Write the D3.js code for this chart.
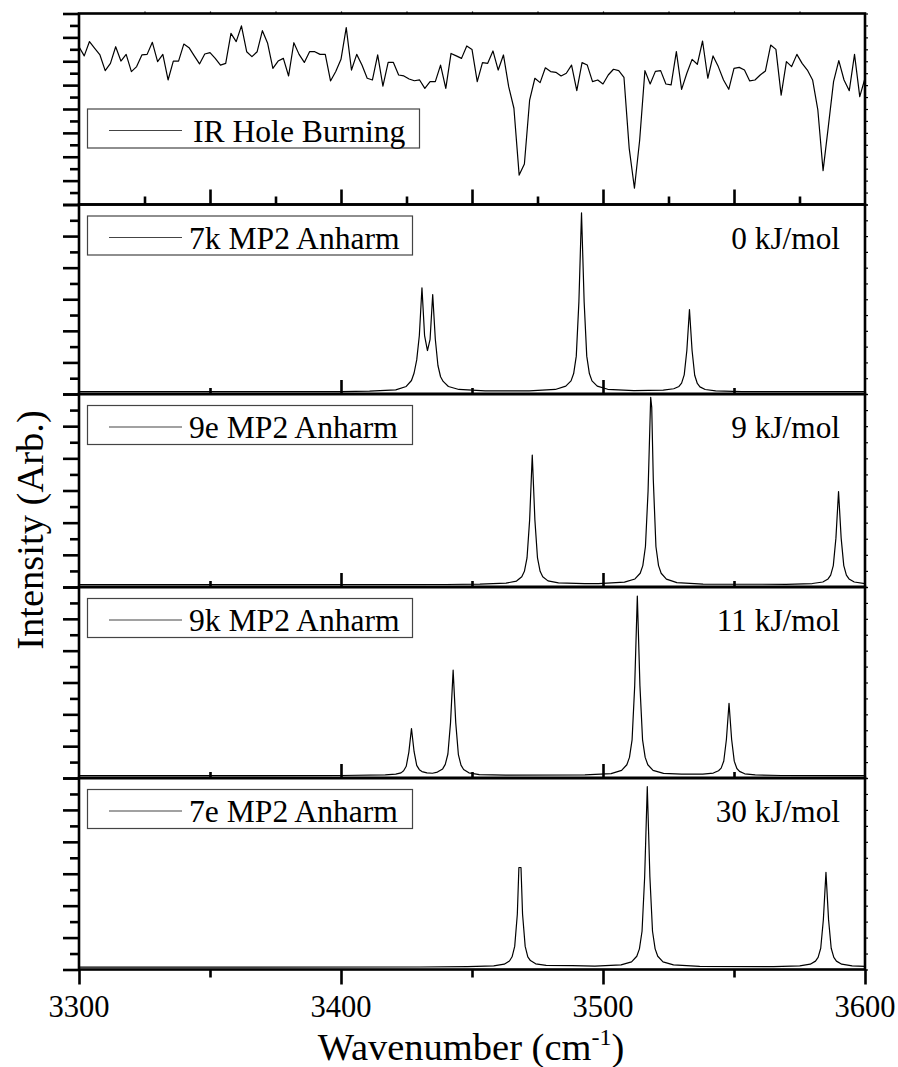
<!DOCTYPE html>
<html>
<head>
<meta charset="utf-8">
<script src="https://cdn.jsdelivr.net/npm/d3@7"></script>
<style>body{margin:0;background:#fff}</style>
</head>
<body>
<svg id="chart" width="898" height="1067"></svg>
<script>
// ---- data ----
const wavenumberTicks = [3300, 3400, 3500, 3600];
const panelLabels = ["IR Hole Burning", "7k MP2 Anharm", "9e MP2 Anharm", "9k MP2 Anharm", "7e MP2 Anharm"];
const energyLabels = [null, "0 kJ/mol", "9 kJ/mol", "11 kJ/mol", "30 kJ/mol"];

// IR hole-burning trace, sampled every 2 cm-1 from 3300 cm-1
const holeBurningStart = 3300;
const holeBurningStep = 2;
const holeBurning = [
  82.6, 77.8, 85.3, 81.8, 78.3, 70.1, 73.9, 82.6, 75.1, 78.6,
  69.6, 72.2, 78.3, 78.6, 84.9, 74.8, 78.6, 65.2, 75.1, 75.1,
  84.0, 82.1, 77.8, 73.6, 78.8, 79.5, 76.5, 73.0, 73.9, 89.6,
  85.3, 93.5, 80.0, 77.4, 80.0, 91.0, 84.4, 71.3, 75.1, 76.5,
  67.3, 84.7, 78.6, 74.4, 80.0, 80.0, 78.6, 78.6, 64.7, 69.6,
  76.0, 92.6, 70.4, 78.6, 73.0, 66.1, 65.2, 78.3, 62.0, 74.4,
  74.4, 67.8, 67.3, 65.7, 64.8, 65.2, 60.8, 64.3, 64.3, 73.0,
  60.8, 79.1, 77.8, 76.5, 83.0, 81.2, 64.3,
  74.3, 73.9, 80.4, 70.4, 78.3, 61.7, 50.4, 15.4, 21.2, 54.7,
  66.1, 63.8, 71.6, 69.6, 69.2, 67.3, 68.7, 73.0, 59.6, 74.3,
  73.0, 64.3, 65.2, 63.1, 67.8, 70.8, 70.1, 66.6, 29.4, 8.5,
  33.8, 70.1, 63.1, 69.7, 70.1, 63.1, 62.6, 80.0, 60.3, 68.7,
  76.0, 73.4, 85.6, 66.1, 77.8, 72.2, 65.2, 60.3, 71.3, 71.8,
  70.4, 64.7, 65.2, 67.8, 69.9, 83.5, 81.2, 57.3, 74.8, 72.2,
  78.6, 73.9, 70.4, 65.2, 49.5, 17.7, 40.8, 64.3, 75.3, 65.2,
  59.6, 78.6, 56.5, 66.1
];

// computed anharmonic spectra: [wavenumber (cm-1), intensity (arb.)]
const spectrum7k = [
  [3300, 0], [3400, 0.001], [3410.9, 0.003], [3420.9, 0.01], [3424.9, 0.028],
  [3426.9, 0.06], [3427.9, 0.1], [3428.9, 0.17], [3429.9, 0.3], [3430.9, 0.555],
  [3431.9, 0.3], [3433.0, 0.22], [3434.0, 0.28], [3435.0, 0.519], [3436.0, 0.28],
  [3437.0, 0.14], [3438.0, 0.08], [3439.0, 0.055], [3441.0, 0.028], [3445.0, 0.012],
  [3455.0, 0.004], [3471.8, 0.004], [3481.8, 0.012], [3485.8, 0.03], [3487.8, 0.058],
  [3488.8, 0.097], [3489.8, 0.19], [3490.8, 0.48], [3491.8, 0.956], [3492.8, 0.48],
  [3493.8, 0.19], [3494.8, 0.097], [3495.8, 0.058], [3497.8, 0.03], [3501.8, 0.013],
  [3511.8, 0.006], [3523.0, 0.008], [3527.0, 0.016], [3529.0, 0.028], [3530.0, 0.046],
  [3531.0, 0.09], [3532.0, 0.22], [3533.0, 0.439], [3534.0, 0.22], [3535.0, 0.088],
  [3536.0, 0.044], [3537.0, 0.026], [3539.0, 0.012], [3543.0, 0.004], [3553.0, 0.001],
  [3600, 0]
];
const spectrum9e = [
  [3300, 0], [3440, 0.001], [3453, 0.003], [3463, 0.008], [3467, 0.019],
  [3469, 0.042], [3470, 0.07], [3471, 0.14], [3472, 0.34], [3473, 0.68],
  [3474, 0.34], [3475, 0.14], [3476, 0.07], [3477, 0.042], [3479, 0.02],
  [3483, 0.009], [3493, 0.006], [3498.2, 0.006], [3508.2, 0.013], [3512.2, 0.03],
  [3514.2, 0.06], [3515.2, 0.1], [3516.2, 0.2], [3517.2, 0.49], [3518.2, 0.983],
  [3518.6, 0.93], [3519.2, 0.55], [3520.2, 0.2], [3521.2, 0.1], [3522.2, 0.06],
  [3524.2, 0.029], [3528.2, 0.011], [3538.2, 0.003], [3569.9, 0.002], [3579.9, 0.006],
  [3583.9, 0.014], [3585.9, 0.03], [3586.9, 0.05], [3587.9, 0.1], [3588.9, 0.244],
  [3589.9, 0.488], [3590.9, 0.244], [3591.9, 0.1], [3592.9, 0.05], [3593.9, 0.03],
  [3595.9, 0.014], [3600, 0.005]
];
const spectrum9k = [
  [3300, 0], [3400, 0.001], [3416.9, 0.004], [3420.9, 0.008], [3422.9, 0.015],
  [3423.9, 0.026], [3424.9, 0.05], [3425.9, 0.125], [3426.9, 0.25], [3427.9, 0.127],
  [3428.9, 0.055], [3429.9, 0.032], [3430.9, 0.022], [3432.8, 0.015], [3434.9, 0.013],
  [3436.8, 0.019], [3438.8, 0.036], [3439.8, 0.06], [3440.8, 0.115], [3441.8, 0.28],
  [3442.8, 0.559], [3443.8, 0.28], [3444.8, 0.112], [3445.8, 0.056], [3446.8, 0.033],
  [3448.8, 0.015], [3452.8, 0.006], [3462.8, 0.003], [3493.1, 0.004], [3503.1, 0.011],
  [3507.1, 0.028], [3509.1, 0.058], [3510.1, 0.097], [3511.1, 0.19], [3512.1, 0.476],
  [3513.1, 0.952], [3514.1, 0.476], [3515.1, 0.19], [3516.1, 0.097], [3517.1, 0.058],
  [3519.1, 0.028], [3523.1, 0.012], [3530.0, 0.008], [3538.1, 0.008], [3542.1, 0.014],
  [3544.1, 0.026], [3545.1, 0.04], [3546.1, 0.078], [3547.1, 0.192], [3548.1, 0.384],
  [3549.1, 0.192], [3550.1, 0.077], [3551.1, 0.038], [3552.1, 0.023], [3554.1, 0.01],
  [3558.1, 0.004], [3568.1, 0.001], [3600, 0]
];
const spectrum7e = [
  [3300, 0], [3430, 0.001], [3448.3, 0.003], [3458.3, 0.007], [3462.3, 0.016],
  [3464.3, 0.033], [3465.3, 0.055], [3466.3, 0.11], [3467.3, 0.28], [3467.9, 0.527],
  [3468.7, 0.527], [3469.3, 0.28], [3470.3, 0.11], [3471.3, 0.055], [3472.3, 0.035],
  [3474.3, 0.018], [3478.3, 0.01], [3488.3, 0.008], [3496.9, 0.006], [3506.9, 0.012],
  [3510.9, 0.028], [3512.9, 0.058], [3513.9, 0.097], [3514.9, 0.19], [3515.9, 0.477],
  [3516.9, 0.954], [3517.9, 0.477], [3518.9, 0.19], [3519.9, 0.097], [3520.9, 0.058],
  [3522.9, 0.028], [3526.9, 0.012], [3536.9, 0.004], [3565.1, 0.003], [3575.1, 0.007],
  [3579.1, 0.016], [3581.1, 0.032], [3582.1, 0.052], [3583.1, 0.1], [3584.1, 0.25],
  [3585.1, 0.501], [3586.1, 0.25], [3587.1, 0.1], [3588.1, 0.052], [3589.1, 0.032],
  [3591.1, 0.016], [3595.1, 0.007], [3600, 0.004]
];

// ---- layout ----
const xLeft = 79, xRight = 865;
const panelEdges = [13.5, 204.5, 394, 587, 778, 969.5];
const FONT = '"Liberation Serif"';

const holeBurningPoints = holeBurning.map((v, i) => [holeBurningStart + i * holeBurningStep, v]);
const panels = [
  { data: holeBurningPoints, domain: [0, 100], leftIntervals: 16 },
  { data: spectrum7k, domain: [-0.0122, 1], leftIntervals: 12 },
  { data: spectrum9e, domain: [-0.0122, 1], leftIntervals: 12 },
  { data: spectrum9k, domain: [-0.0122, 1], leftIntervals: 12 },
  { data: spectrum7e, domain: [-0.0122, 1], leftIntervals: 12 }
];

const svg = d3.select("#chart");
const x = d3.scaleLinear().domain([3300, 3600]).range([xLeft, xRight]);

function addText(parent, size) {
  return parent.append("text")
    .style("font-family", FONT)
    .style("font-size", size + "px");
}
function styleTicks(g, width) {
  g.select(".domain").remove();
  g.selectAll(".tick line").attr("stroke", "#000").attr("stroke-width", width);
  g.selectAll(".tick text").remove();
}

panels.forEach((p, i) => {
  const top = panelEdges[i], bottom = panelEdges[i + 1];
  const y = d3.scaleLinear().domain(p.domain).range([bottom, top]);
  const g = svg.append("g");

  const clipId = "clip" + i;
  g.append("clipPath").attr("id", clipId)
    .append("rect").attr("x", xLeft).attr("y", top).attr("width", xRight - xLeft).attr("height", bottom - top);

  // trace
  g.append("path")
    .datum(p.data)
    .attr("clip-path", `url(#${clipId})`)
    .attr("fill", "none")
    .attr("stroke", "#000")
    .attr("stroke-width", 1.2)
    .attr("stroke-linejoin", "round")
    .attr("d", d3.line().x(d => x(d[0])).y(d => y(d[1])));

  // left ticks: alternating long / short
  const [d0, d1] = p.domain;
  const n = p.leftIntervals;
  const yTicks = d3.range(n + 1).map(k => d0 + (d1 - d0) * k / n);
  const majorY = yTicks.filter((_, k) => k % 2 === 0);
  const minorY = yTicks.filter((_, k) => k % 2 === 1);
  g.append("g").attr("transform", `translate(${xLeft},0)`)
    .call(d3.axisLeft(y).tickValues(majorY).tickSize(16).tickFormat(""))
    .call(a => styleTicks(a, 2.6));
  g.append("g").attr("transform", `translate(${xLeft},0)`)
    .call(d3.axisLeft(y).tickValues(minorY).tickSize(9).tickFormat(""))
    .call(a => styleTicks(a, 2.6));
  // right ticks: small, outward
  g.append("g").attr("transform", `translate(${xRight},0)`)
    .call(d3.axisRight(y).tickValues(yTicks).tickSize(3).tickFormat(""))
    .call(a => styleTicks(a, 1.2));

  // bottom ticks
  if (i === 0) {
    const all = d3.range(3325, 3600, 25);
    g.append("g").attr("transform", `translate(0,${bottom})`)
      .call(d3.axisBottom(x).tickValues(all.filter(v => v % 50 === 0)).tickSize(-15).tickFormat(""))
      .call(a => styleTicks(a, 2.6));
    g.append("g").attr("transform", `translate(0,${bottom})`)
      .call(d3.axisBottom(x).tickValues(all.filter(v => v % 50 !== 0)).tickSize(-8).tickFormat(""))
      .call(a => styleTicks(a, 2.6));
    g.append("g").attr("transform", `translate(0,${top})`)
      .call(d3.axisTop(x).tickValues(all).tickSize(2).tickFormat(""))
      .call(a => styleTicks(a, 1.2));
  } else if (i < 4) {
    g.append("g").attr("transform", `translate(0,${bottom})`)
      .call(d3.axisBottom(x).tickValues([3400, 3500]).tickSize(-14).tickFormat(""))
      .call(a => styleTicks(a, 2.6));
    g.append("g").attr("transform", `translate(0,${bottom})`)
      .call(d3.axisBottom(x).tickValues([3350, 3450, 3550]).tickSize(-6).tickFormat(""))
      .call(a => styleTicks(a, 2.6));
  } else {
    g.append("g").attr("transform", `translate(0,${bottom})`)
      .call(d3.axisBottom(x).tickValues(wavenumberTicks).tickSize(15).tickFormat(""))
      .call(a => styleTicks(a, 2.6));
    g.append("g").attr("transform", `translate(0,${bottom})`)
      .call(d3.axisBottom(x).tickValues([3350, 3450, 3550]).tickSize(8).tickFormat(""))
      .call(a => styleTicks(a, 2.6));
    // tick labels, placed with the same scale
    wavenumberTicks.forEach(v => {
      addText(g, 30.5)
        .attr("x", x(v)).attr("y", bottom + 47.5)
        .attr("text-anchor", "middle")
        .text(d3.format("d")(v));
    });
  }

  // frame
  g.append("rect")
    .attr("x", xLeft).attr("y", top)
    .attr("width", xRight - xLeft).attr("height", bottom - top)
    .attr("fill", "none").attr("stroke", "#000").attr("stroke-width", 2.6);

  // legend box
  const lgTop = i === 0 ? top + 95.5 : top + 11.5;
  const lgW = i === 0 ? 332 : 325;
  g.append("rect")
    .attr("x", 87.5).attr("y", lgTop).attr("width", lgW).attr("height", 39)
    .attr("fill", "#fff").attr("stroke", "#444").attr("stroke-width", 1.2);
  g.append("line")
    .attr("x1", 109).attr("x2", 182)
    .attr("y1", lgTop + 21.5).attr("y2", lgTop + 21.5)
    .attr("stroke", "#444").attr("stroke-width", 1.2);
  addText(g, 31.6)
    .attr("x", i === 0 ? 193 : 189).attr("y", lgTop + 32.5)
    .text(panelLabels[i]);

  if (energyLabels[i]) {
    addText(g, 31.3)
      .attr("x", 840).attr("y", top + 44)
      .attr("text-anchor", "end")
      .text(energyLabels[i]);
  }
});

// axis titles
const xt = addText(svg, 38.5)
  .attr("x", 471).attr("y", 1060)
  .attr("text-anchor", "middle");
xt.append("tspan").text("Wavenumber (cm");
xt.append("tspan").attr("dy", -15).style("font-size", "24px").text("-1");
xt.append("tspan").attr("dy", 15).text(")");

addText(svg, 38.5)
  .attr("transform", "translate(43,530) rotate(-90)")
  .attr("text-anchor", "middle")
  .text("Intensity (Arb.)");
</script>
</body>
</html>
